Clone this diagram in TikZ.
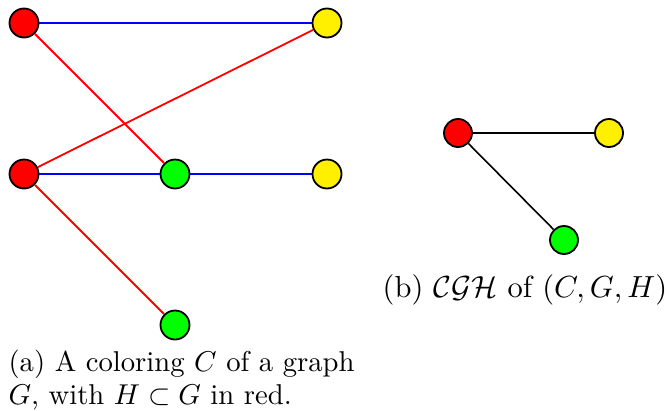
\documentclass[tikz,border=0pt]{standalone}
\usepackage{amsmath,amssymb}
\definecolor{vred}{RGB}{255,0,0}
\definecolor{vyel}{RGB}{255,240,0}
\definecolor{vgrn}{RGB}{0,255,0}
\definecolor{eblue}{RGB}{0,0,255}
\begin{document}
\begin{tikzpicture}[x=1pt,y=-1pt,
  vert/.style={circle,draw=black,line width=1.8pt,minimum size=29pt,inner sep=0pt},
  redv/.style={vert,fill=vred},
  yelv/.style={vert,fill=vyel},
  grnv/.style={vert,fill=vgrn},
  bedge/.style={draw=eblue,line width=1.8pt},
  redge/.style={draw=vred,line width=1.8pt},
  kedge/.style={draw=black,line width=1.6pt},
  captext/.style={inner sep=0pt,font=\fontsize{10}{12}\selectfont,scale=3.05,transform shape},
  captexta/.style={captext,scale=0.94}]
\useasboundingbox (0,0) rectangle (669,410);
% (a)
\node[redv] (a1) at (24,23) {};
\node[yelv] (a2) at (327,23) {};
\node[redv] (a3) at (24,174) {};
\node[grnv] (a4) at (175,174) {};
\node[yelv] (a5) at (327,174) {};
\node[grnv] (a6) at (175,325) {};
\path[bedge] (a1) -- (a2);
\path[bedge] (a3) -- (a4);
\path[bedge] (a4) -- (a5);
\path[redge] (a1) -- (a4);
\path[redge] (a3) -- (a2);
\path[redge] (a3) -- (a6);
% (b)
\node[redv,minimum size=28pt] (b1) at (458,133) {};
\node[yelv,minimum size=28pt] (b2) at (609,133) {};
\node[grnv,minimum size=28pt] (b3) at (564,240) {};
\path[kedge] (b1) -- (b2);
\path[kedge] (b1) -- (b3);
% captions
\node[captexta,anchor=base west] (ca1) at (8,371) {(a) A coloring $C$ of a graph};
\node[captexta,anchor=base west] (ca2) at (8,404) {$G$, with $H\subset G$ in red.};
\node[captext,anchor=base] (cb) at (525,297) {(b) $\mathcal{CGH}$ of $(C,G,H)$};
\end{tikzpicture}
\end{document}
